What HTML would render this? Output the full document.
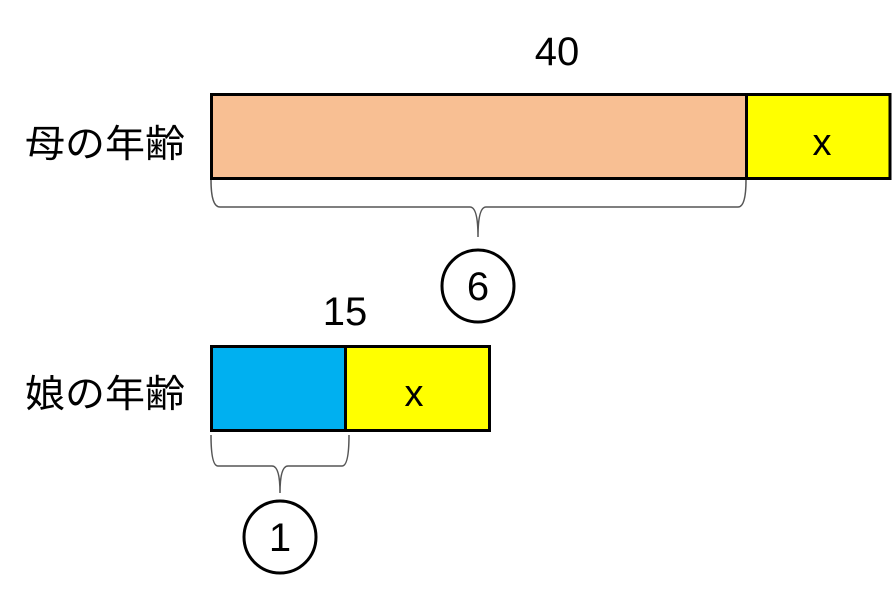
<!DOCTYPE html>
<html><head><meta charset="utf-8"><style>
html,body{margin:0;padding:0;background:#fff;}
svg{display:block}
text{font-family:"Liberation Sans","Noto Sans CJK JP",sans-serif;fill:#000}
</style></head><body>
<svg width="892" height="598" viewBox="0 0 892 598" xmlns="http://www.w3.org/2000/svg">
<rect x="0" y="0" width="892" height="598" fill="#fff"/>
<text x="557" y="65" font-size="40" text-anchor="middle">40</text>
<text x="25" y="157" font-size="38" textLength="160" lengthAdjust="spacingAndGlyphs" font-family="Noto Sans CJK JP, sans-serif">母の年齢</text>
<rect x="211.5" y="94.5" width="535" height="84" fill="#F8BF93" stroke="#000" stroke-width="3"/>
<rect x="746.5" y="94.5" width="143.5" height="84" fill="#FFFF00" stroke="#000" stroke-width="3"/>
<text x="822" y="155" font-size="38" text-anchor="middle">x</text>
<path d="M211 180 Q211 207 220 207 L470 207 Q478 207 478 237 Q478 207 486 207 L738 207 Q746 207 746 180" fill="none" stroke="#555" stroke-width="1.5"/>
<circle cx="478" cy="286" r="36" fill="#fff" stroke="#000" stroke-width="3"/>
<text x="478" y="300" font-size="40" text-anchor="middle">6</text>
<text x="345" y="325" font-size="40" text-anchor="middle">15</text>
<text x="25" y="407" font-size="38" textLength="160" lengthAdjust="spacingAndGlyphs" font-family="Noto Sans CJK JP, sans-serif">娘の年齢</text>
<rect x="211.5" y="346.5" width="134" height="84" fill="#00B0F0" stroke="#000" stroke-width="3"/>
<rect x="345.5" y="346.5" width="144" height="84" fill="#FFFF00" stroke="#000" stroke-width="3"/>
<text x="414" y="406" font-size="38" text-anchor="middle">x</text>
<path d="M211 435 Q211 466 218 466 L272 466 Q280 466 280 493 Q280 466 288 466 L342 466 Q349 466 349 435" fill="none" stroke="#555" stroke-width="1.5"/>
<circle cx="280" cy="537" r="36" fill="#fff" stroke="#000" stroke-width="3"/>
<text x="280" y="551" font-size="40" text-anchor="middle">1</text>
</svg>
</body></html>
